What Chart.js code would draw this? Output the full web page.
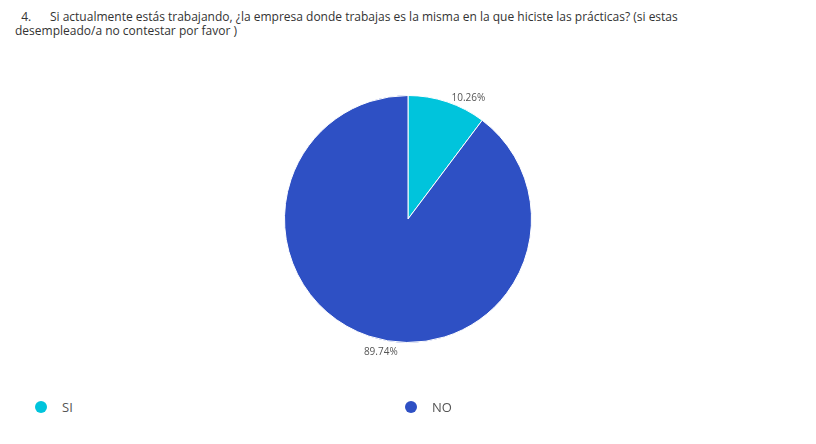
<!DOCTYPE html>
<html><head><meta charset="utf-8">
<script src="https://cdn.jsdelivr.net/npm/chart.js@4"></script>
<style>
body{margin:0;width:816px;height:444px;background:#fff;font-family:"Open Sans","DejaVu Sans",sans-serif;position:relative;overflow:hidden}
#title{position:absolute;left:15px;top:10px;font-size:12px;line-height:14px;color:#333;width:780px;white-space:pre-wrap}
#wrap{position:absolute;left:208px;top:19px;width:400px;height:400px}
.lg{position:absolute;top:398px;font-size:13px;color:#555;display:flex;align-items:center}
.dot{width:12px;height:12px;border-radius:50%;margin-right:15px}
</style></head><body>
<div id="title">  4.      Si actualmente estás trabajando, ¿la empresa donde trabajas es la misma en la que hiciste las prácticas? (si estas
desempleado/a no contestar por favor )</div>
<div id="wrap"><canvas id="c" width="400" height="400"></canvas></div>
<div class="lg" style="left:35px"><div class="dot" style="background:#00c4dc"></div>SI</div>
<div class="lg" style="left:405px"><div class="dot" style="background:#2e50c4"></div>NO</div>
<script>
const categories=["SI","NO"];
const values=[10.26,89.74];
const colors=["#00c4dc","#2e50c4"];
const labelPlugin={id:"lbl",afterDraw(chart){
  const ctx=chart.ctx;const meta=chart.getDatasetMeta(0);
  ctx.save();ctx.font="10px 'Open Sans',sans-serif";ctx.fillStyle="#555";ctx.textAlign="center";ctx.textBaseline="middle";
  meta.data.forEach((a,i)=>{const m=(a.startAngle+a.endAngle)/2;const off=i===0?0.14:-0.12;const r=a.outerRadius+12;
    ctx.fillText(values[i].toFixed(2)+"%",a.x+Math.cos(m+off)*r,a.y+Math.sin(m+off)*r);});
  ctx.restore();}};
new Chart(document.getElementById("c"),{type:"pie",
 data:{labels:categories,datasets:[{data:values,backgroundColor:colors,borderColor:"#fff",borderWidth:1}]},
 options:{responsive:false,animation:false,layout:{padding:76},plugins:{legend:{display:false},tooltip:{enabled:false}}},
 plugins:[labelPlugin]});
</script></body></html>
